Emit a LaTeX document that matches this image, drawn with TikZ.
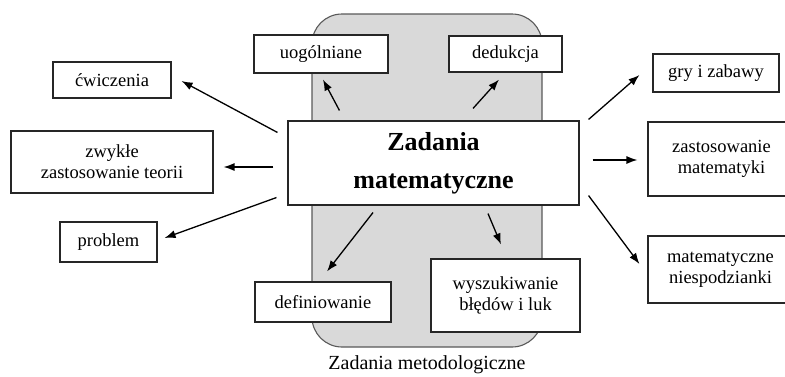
\documentclass[tikz,border=0pt]{standalone}
\usepackage{fontspec}
\setmainfont{Liberation Serif}
\usetikzlibrary{arrows.meta}

\begin{document}
\begin{tikzpicture}[x=1pt, y=-1pt,
                    box/.style={draw=black!85, line width=1.1pt, fill=white, align=center, inner sep=0pt,
                                font=\fontsize{18.5}{21}\selectfont},
                    arr/.style={-{Latex[length=11pt, width=8pt]}, line width=1.3pt}]
                    \clip[use as bounding box] (0,0) rectangle (785,376);
                    \node[draw=black!65, line width=1.1pt, fill=black!15, rounded corners=30pt,
                          minimum width=230pt, minimum height=333pt, inner sep=0pt] (metod) at (427,180.5) {};
                    \node[font=\fontsize{20}{22}\selectfont] (capt) at (427,365) {Zadania metodologiczne};
                    \node[box, minimum width=291pt, minimum height=84pt, font=\fontsize{26}{38}\selectfont\bfseries]
                        (main) at (433.5,163) {Zadania\\matematyczne};
                    \node[box, minimum width=134pt, minimum height=38pt] (uog) at (321,54) {uogólniane};
                    \node[box, minimum width=113pt, minimum height=36pt] (ded) at (505.5,54) {dedukcja};
                    \node[box, minimum width=118pt, minimum height=36pt] (cw) at (112,80) {ćwiczenia};
                    \node[box, minimum width=202pt, minimum height=62pt] (zwy) at (112,162) {zwykłe\\zastosowanie teorii};
                    \node[box, minimum width=97pt, minimum height=40pt] (prob) at (108.5,242) {problem};
                    \node[box, minimum width=136pt, minimum height=40pt] (def) at (323,302) {definiowanie};
                    \node[box, minimum width=149pt, minimum height=73pt] (wys) at (505.5,295.5) {wyszukiwanie\\błędów i luk};
                    \node[box, minimum width=126pt, minimum height=38pt] (gry) at (716,73) {gry i zabawy};
                    \node[box, minimum width=147pt, minimum height=74pt] (zmat) at (721.5,159) {zastosowanie\\matematyki};
                    \node[box, minimum width=145pt, minimum height=67pt] (nies) at (720.5,269.5) {matematyczne\\niespodzianki};
                    % arrows out of the main box
                    \draw[arr] ([shift={(-10,12)}]main.north west) -- ([shift={(10,1)}]cw.east);
                    \draw[arr] ([shift={(-14,4)}]main.west) -- ([shift={(10,5)}]zwy.east);
                    \draw[arr] ([shift={(-11,-8)}]main.south west) -- ([shift={(7,-4)}]prob.east);
                    \draw[arr] ([shift={(52,-10)}]main.north west) -- ([shift={(2,6)}]uog.south);
                    \draw[arr] ([shift={(39.5,-12)}]main.north) -- ([shift={(-6.5,7)}]ded.south);
                    \draw[arr] ([shift={(-60.5,7)}]main.south) -- ([shift={(4,-10)}]def.north);
                    \draw[arr] ([shift={(54.5,8)}]main.south) -- ([shift={(-4.5,-14)}]wys.north);
                    \draw[arr] ([shift={(9,-1)}]main.north east) -- ([shift={(-13,2)}]gry.west);
                    \draw[arr] ([shift={(13,-3)}]main.east) -- ([shift={(-10,1)}]zmat.west);
                    \draw[arr] ([shift={(9,-10)}]main.south east) -- ([shift={(-8,-5.5)}]nies.west);
                \end{tikzpicture}
\end{document}
